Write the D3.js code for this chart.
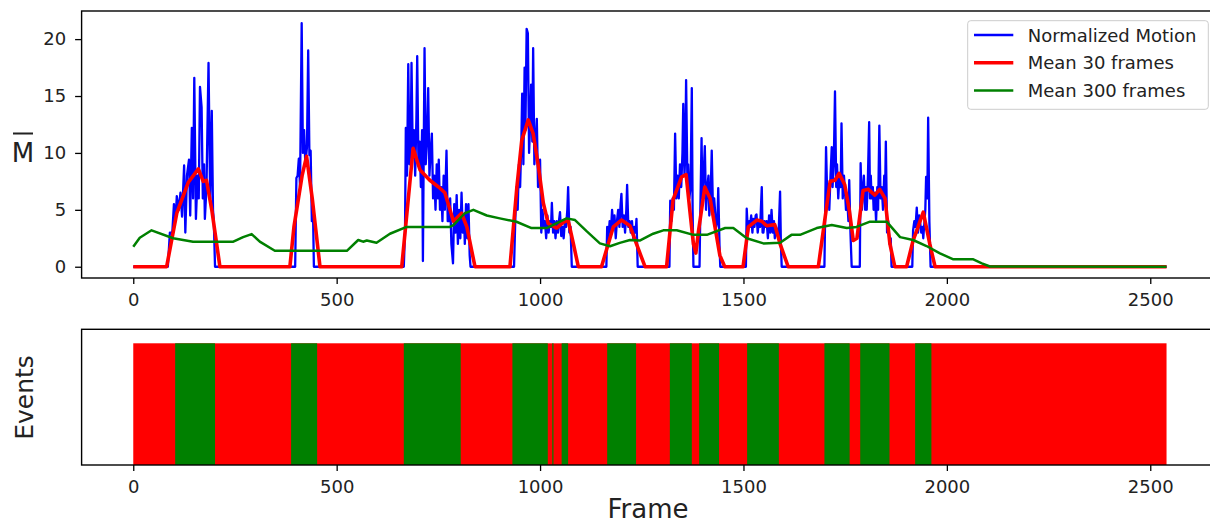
<!DOCTYPE html>
<html>
<head>
<meta charset="utf-8">
<script src="https://cdn.jsdelivr.net/npm/d3@7"></script>
<style>
  body { margin: 0; background: #fff; }
  svg { display: block; font-family: "DejaVu Sans", sans-serif; }
</style>
</head>
<body>
<div id="chart"></div>
<script>
// frames / values
const motionFrames = [0, 85, 90, 96, 100, 104, 107, 112, 116, 120, 125, 128, 132, 137, 140, 144, 147, 150, 154, 158, 161, 164, 168, 171, 174, 176, 180, 185, 189, 193, 196, 198, 201,
  398, 401, 404, 407, 410, 414, 417, 420, 423, 427, 430, 433, 436, 439, 442, 444,
  665, 668, 670, 673, 676, 679, 682, 684, 687, 690, 693, 696, 698, 701, 704, 707, 710, 712, 714, 716, 719, 722, 725, 728, 731, 734, 737, 740, 743, 746, 749, 751, 754, 757, 760, 763, 766, 770, 773, 776, 779, 782, 786, 789, 792, 795, 798, 801, 804, 807, 810, 813, 815, 818, 821, 824, 827, 829,
  936, 939, 942, 945, 948, 951, 954, 956, 959, 962, 964, 967, 970, 973, 975, 978, 981, 983, 986, 989, 992, 995, 998, 1000, 1003, 1006, 1009, 1012, 1015, 1018, 1021, 1024, 1027, 1029, 1032, 1035, 1038, 1041, 1044, 1047, 1049, 1052, 1055, 1058, 1061, 1064, 1067, 1069, 1072, 1075, 1078,
  1163, 1165, 1168, 1171, 1174, 1177, 1180, 1183, 1186, 1189, 1192, 1195, 1198, 1200, 1203, 1206, 1209, 1212, 1214, 1217, 1220, 1223, 1226, 1229, 1232, 1235, 1237, 1240,
  1318, 1320, 1323, 1326, 1329, 1332, 1335, 1338, 1341, 1344, 1347, 1350, 1352, 1355, 1357, 1359, 1362, 1364, 1367, 1370, 1373, 1375, 1377,
  1392, 1394, 1397, 1399, 1402, 1405, 1408, 1411, 1414, 1416, 1419, 1422, 1425, 1428, 1430, 1433, 1436, 1438, 1441, 1443,
  1506, 1508, 1511, 1514, 1516, 1519, 1522, 1524, 1527, 1530, 1532, 1535, 1538, 1541, 1545, 1547, 1549, 1552, 1555, 1557, 1560, 1563, 1566, 1569, 1572, 1575, 1577, 1580, 1583, 1586, 1590, 1592, 1594,
  1699, 1701, 1703, 1706, 1708, 1711, 1714, 1717, 1719, 1722, 1725, 1728, 1730, 1733, 1736, 1739, 1741, 1744, 1747, 1749, 1752, 1755, 1758, 1760, 1763, 1766,
  1786, 1788, 1791, 1794, 1796, 1799, 1801, 1803, 1806, 1809, 1811, 1813, 1815, 1818, 1820, 1823, 1826, 1829, 1831, 1834, 1837, 1840, 1843, 1846, 1848, 1850, 1853, 1856, 1859, 1862, 1864,
  1915, 1917, 1920, 1923, 1926, 1929, 1932, 1934, 1937, 1940, 1942, 1945, 1947, 1949, 1952, 1954, 1957, 1960, 2540];
const motionValues = [0, 0, 3.0, 3.0, 5.5, 4, 6.2, 5, 6.5, 4.4, 8.9, 3, 8, 9.4, 4.5, 12.2, 6, 16.6, 4.2, 8, 6, 15.8, 14, 6, 9, 4.2, 7, 17.9, 6, 13.7, 5, 4, 0,
  0, 7.8, 8.0, 9.5, 7, 21.4, 10, 12, 9, 10.5, 19, 9.8, 10.2, 4, 4.5, 0,
  0, 3, 12.2, 8, 17.8, 9, 11, 17.9, 10, 12, 8, 13, 18.5, 9, 11, 7, 12, 0.5, 10, 19.2, 9, 11, 15.7, 8, 10, 11.7, 6, 8, 5, 9, 6, 9.4, 5, 7, 4, 8, 5, 10.2, 4, 4, 6, 2, 0.3, 5.5, 3, 6.3, 2, 5, 2.5, 6.5, 3, 4.5, 2, 5.5, 2.5, 5.5, 1, 0,
  0, 4, 7, 5, 9, 7, 11, 15.2, 9, 17.5, 12, 20.9, 20.5, 10, 12, 16, 11, 19.2, 9, 11, 13, 7, 8, 9.4, 3, 5, 3.5, 4, 2.5, 4.5, 3, 4, 3.5, 5.6, 3, 4, 2.5, 4, 3, 4.2, 4.8, 2.7, 3.5, 2.5, 4, 3.5, 5, 7.0, 3, 3.5, 0,
  0, 3.5, 2.5, 4, 3, 5, 3.5, 4.5, 2.5, 4, 5, 3.5, 5.5, 6.4, 3.5, 4.5, 3, 5, 7.2, 3.5, 4, 3, 4, 2.5, 3.5, 3, 4.2, 0,
  0, 5.8, 4, 6, 5, 11.7, 6, 8, 6, 9, 7, 10, 14.3, 8, 10, 16.4, 8, 9, 6, 7, 15.7, 5, 0,
  0, 5, 11.3, 6, 8, 10.6, 5, 7, 8, 4.5, 6, 10.2, 5, 6, 5, 3.5, 4, 6.9, 2, 0,
  0, 5.1, 3, 4, 3.5, 4.5, 3, 4.2, 3.5, 4.5, 4.6, 3, 4, 3.5, 7.0, 3, 3, 4, 3.5, 4, 2.5, 4.5, 3, 5.0, 3, 4, 2.5, 3.5, 3, 2.5, 6.6, 2, 0,
  0, 5, 10.5, 6, 7, 5, 8, 10.5, 7, 9, 15.4, 7, 9, 6, 8, 7, 12.6, 6, 8, 7, 5, 6, 4, 7.6, 3, 0,
  0, 9.1, 5, 7, 8, 5, 7, 5, 8, 12.7, 6, 8, 6, 7, 5, 6.5, 4, 7, 5, 12.4, 6, 7, 5, 8, 6, 11, 3, 4, 2, 2.5, 0,
  0, 3.2, 4, 3.5, 5.2, 3, 4.5, 4, 3, 3.5, 2.5, 4, 5, 7.9, 6, 13.1, 4, 0, 0];

const mean30Frames = [0, 82, 107, 135, 160, 172, 180, 193, 213,
  385, 395, 415, 426, 440, 459,
  660, 688, 705, 729, 754, 766, 787, 807, 820, 840,
  926, 943, 955, 971, 983, 996, 1008, 1020, 1041, 1057, 1069, 1082, 1094,
  1151, 1180, 1200, 1221, 1237, 1258,
  1311, 1327, 1348, 1359, 1368, 1377, 1383, 1389, 1405, 1418, 1430, 1442, 1454,
  1499, 1512, 1533, 1545, 1557, 1577, 1590, 1610,
  1684, 1713, 1725, 1735, 1749, 1760, 1770, 1779, 1794, 1807, 1823, 1835, 1848, 1860, 1872,
  1901, 1917, 1942, 1958, 1971, 2540];
const mean30Values = [0, 0, 4.7, 7.4, 8.6, 7.5, 7.6, 5, 0,
  0, 3.5, 8, 9.7, 6, 0,
  0, 10.4, 8.5, 7.6, 6.9, 6.5, 4.0, 4.7, 3.5, 0,
  0, 7, 11.1, 12.9, 11.7, 8.8, 5.6, 3.8, 3.4, 3.9, 4.1, 2, 0,
  0, 3.5, 4.1, 3.6, 2, 0,
  0, 5.9, 7.9, 8.1, 5, 2, 1.2, 3, 7.0, 6, 3.5, 1, 0,
  0, 3.5, 4.1, 4.0, 3.6, 3.7, 2, 0,
  0, 7.5, 7.6, 8.2, 7.2, 5, 2.3, 2.5, 6.7, 6.8, 6.3, 6.8, 6, 2, 0,
  0, 2.3, 4.8, 2, 0, 0];

const mean300Frames = [0, 16, 45, 98, 147, 246, 270, 291, 311, 348, 525, 553, 565, 574, 598, 631, 672, 778, 787, 815, 836, 869, 901, 942, 979, 1016, 1065, 1086, 1115, 1147, 1172, 1196, 1221, 1245, 1278, 1303, 1336, 1377, 1410, 1455, 1475, 1508, 1549, 1590, 1618, 1639, 1680, 1717, 1754, 1778, 1811, 1852, 1885, 1917, 1950, 1983, 2016, 2065, 2086, 2106, 2540];
const mean300Values = [1.76, 2.55, 3.2, 2.5, 2.2, 2.2, 2.6, 2.87, 2.2, 1.4, 1.4, 2.35, 2.2, 2.3, 2.1, 2.9, 3.5, 3.5, 3.66, 4.7, 5.0, 4.5, 4.25, 3.95, 3.4, 3.4, 4.25, 4.1, 3.1, 2.05, 1.8, 2.1, 2.35, 2.3, 2.9, 3.2, 3.2, 2.8, 2.8, 3.4, 3.4, 2.5, 2.05, 2.1, 2.8, 2.8, 3.4, 3.66, 3.4, 3.5, 3.96, 3.96, 2.6, 2.35, 1.82, 1.17, 0.65, 0.65, 0.3, 0.02, 0];

// event intervals (green), rest of the range is red
const totalFrames = 2540;
const eventStarts = [103, 388, 665, 932, 1030, 1053, 1165, 1319, 1391, 1509, 1699, 1787, 1922];
const eventEnds   = [201, 452, 805, 1019, 1033, 1069, 1236, 1373, 1440, 1587, 1761, 1859, 1962];

const xTicks = [0, 500, 1000, 1500, 2000, 2500];
const yTicks = [0, 5, 10, 15, 20];
const seriesNames = ['Normalized Motion', 'Mean 30 frames', 'Mean 300 frames'];
const seriesColors = ['#0000ff', '#ff0000', '#008000'];

const width = 1210;
const height = 523;

const svg = d3.select('#chart')
  .append('svg')
  .attr('width', width)
  .attr('height', height);

const x = d3.scaleLinear().domain([-127, 2667]).range([81.6, 1218.2]);
const yTop = d3.scaleLinear().domain([-0.99, 22.47]).range([278, 11]);
const yBot = d3.scaleLinear().domain([0, 1.115]).range([465, 329.3]);

// top panel lines
const series = [
  { frames: motionFrames, values: motionValues, width: 2.3 },
  { frames: mean30Frames, values: mean30Values, width: 3.6 },
  { frames: mean300Frames, values: mean300Values, width: 2.5 },
];

const line = d3.line()
  .x(d => x(d[0]))
  .y(d => yTop(d[1]));

series.forEach((s, i) => {
  svg.append('path')
    .datum(d3.zip(s.frames, s.values))
    .attr('d', line)
    .attr('fill', 'none')
    .attr('stroke', seriesColors[i])
    .attr('stroke-width', s.width)
    .attr('stroke-linejoin', 'round');
});

// bottom panel events
svg.append('rect')
  .attr('x', x(0))
  .attr('y', yBot(1))
  .attr('width', x(totalFrames) - x(0))
  .attr('height', yBot(0) - yBot(1))
  .attr('fill', '#ff0000');

svg.append('g')
  .selectAll('rect')
  .data(d3.zip(eventStarts, eventEnds))
  .join('rect')
    .attr('x', d => x(d[0]))
    .attr('y', yBot(1))
    .attr('width', d => x(d[1]) - x(d[0]))
    .attr('height', yBot(0) - yBot(1))
    .attr('fill', '#008000');

// frames (spines)
[[11, 278], [329.3, 465]].forEach(([t, b]) => {
  svg.append('rect')
    .attr('x', 81.6).attr('y', t)
    .attr('width', 1136.6).attr('height', b - t)
    .attr('fill', 'none')
    .attr('stroke', '#000')
    .attr('stroke-width', 1.4);
});

function styleAxis(g) {
  g.select('.domain').remove();
  g.attr('font-size', 18).attr('font-family', '"DejaVu Sans", sans-serif');
  g.selectAll('line').attr('stroke-width', 1.3);
  g.selectAll('text').attr('fill', '#222');
}

svg.append('g')
  .attr('transform', 'translate(0,278)')
  .call(d3.axisBottom(x).tickValues(xTicks).tickFormat(d3.format('d')).tickSize(6).tickPadding(9))
  .call(styleAxis);

svg.append('g')
  .attr('transform', 'translate(0,465)')
  .call(d3.axisBottom(x).tickValues(xTicks).tickFormat(d3.format('d')).tickSize(6).tickPadding(9))
  .call(styleAxis);

svg.append('g')
  .attr('transform', 'translate(81.6,0)')
  .call(d3.axisLeft(yTop).tickValues(yTicks).tickSize(6.5).tickPadding(9))
  .call(styleAxis);

// axis labels (M with a bar above)
svg.append('text')
  .attr('x', 23).attr('y', 162)
  .attr('text-anchor', 'middle')
  .attr('font-size', 26)
  .attr('fill', '#222')
  .text('M');
svg.append('rect')
  .attr('x', 13).attr('y', 132.5)
  .attr('width', 20).attr('height', 2)
  .attr('fill', '#222');

svg.append('text')
  .attr('transform', 'translate(33,397.5) rotate(-90)')
  .attr('text-anchor', 'middle')
  .attr('font-size', 25)
  .attr('fill', '#222')
  .text('Events');

svg.append('text')
  .attr('x', 648).attr('y', 518)
  .attr('text-anchor', 'middle')
  .attr('font-size', 26)
  .attr('fill', '#222')
  .text('Frame');

// legend
const legend = svg.append('g');
legend.append('rect')
  .attr('x', 967.7).attr('y', 20.7)
  .attr('width', 240.6).attr('height', 88.6)
  .attr('rx', 3)
  .attr('fill', '#fff').attr('fill-opacity', 0.8)
  .attr('stroke', '#ccc');

seriesNames.forEach((name, i) => {
  const ly = 35 + i * 27.8;
  legend.append('line')
    .attr('x1', 974).attr('x2', 1013.3)
    .attr('y1', ly).attr('y2', ly)
    .attr('stroke', seriesColors[i])
    .attr('stroke-width', series[i].width);
  legend.append('text')
    .attr('x', 1027.7).attr('y', ly + 6.5)
    .attr('font-size', 18)
    .attr('fill', '#222')
    .text(name);
});
</script>
</body>
</html>
